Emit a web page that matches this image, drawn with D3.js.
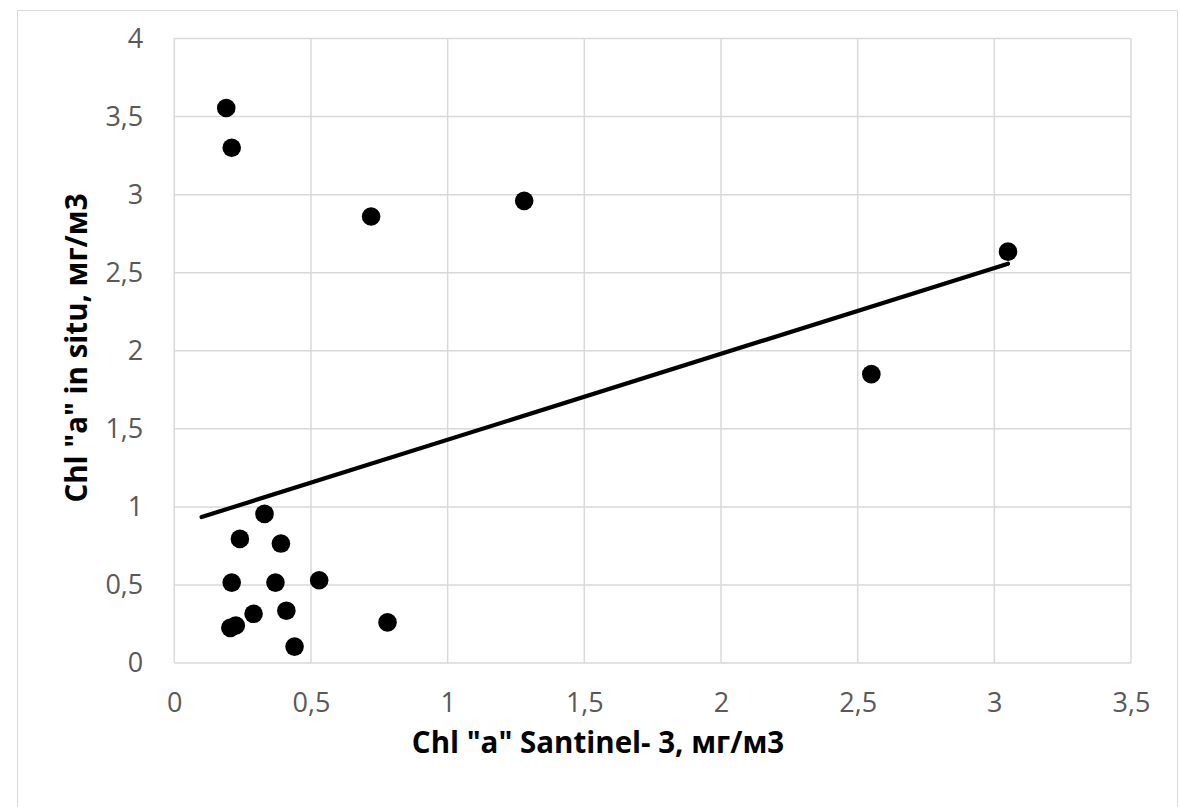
<!DOCTYPE html>
<html>
<head>
<meta charset="utf-8">
<script src="https://cdn.jsdelivr.net/npm/d3@7"></script>
<style>
  html, body { margin: 0; padding: 0; background: #fff; }
  svg { display: block; }
</style>
</head>
<body>
<svg id="chart" width="1180" height="807"></svg>
<script>
// ---- data ----
const xValues = [0.19, 0.21, 0.72, 1.28, 3.05, 2.55, 0.33, 0.24, 0.39, 0.21, 0.37, 0.53, 0.29, 0.41, 0.205, 0.225, 0.44, 0.78];
const yValues = [3.555, 3.30, 2.86, 2.96, 2.635, 1.85, 0.955, 0.795, 0.765, 0.515, 0.515, 0.53, 0.315, 0.335, 0.225, 0.24, 0.105, 0.26];
const trendX = [0.1, 3.05];
const trendY = [0.935, 2.558];
const xTicks = [0, 0.5, 1, 1.5, 2, 2.5, 3, 3.5];
const yTicks = [0, 0.5, 1, 1.5, 2, 2.5, 3, 3.5, 4];
const xTitle = 'Chl "a" Santinel- 3, мг/м3';
const yTitle = 'Chl "a" in situ, мг/м3';

const fmt = v => String(v).replace('.', ',');

const svg = d3.select('#chart');
const plotL = 174.3, plotR = 1131, plotT = 38.5, plotB = 663;

const x = d3.scaleLinear().domain([0, 3.5]).range([plotL, plotR]);
const y = d3.scaleLinear().domain([0, 4]).range([plotB, plotT]);

// outer chart border
svg.append('rect')
  .attr('x', 17.5).attr('y', 10.5).attr('width', 1160).attr('height', 810)
  .attr('fill', '#fff').attr('stroke', '#d9d9d9').attr('stroke-width', 1);

// gridlines
const grid = svg.append('g');
grid.selectAll('line.v').data(xTicks).join('line').attr('class', 'v')
  .attr('x1', d => x(d)).attr('x2', d => x(d))
  .attr('y1', plotT).attr('y2', plotB)
  .attr('stroke', '#d9d9d9').attr('stroke-width', 1.5);
grid.selectAll('line.h').data(yTicks).join('line').attr('class', 'h')
  .attr('y1', d => y(d)).attr('y2', d => y(d))
  .attr('x1', plotL).attr('x2', plotR)
  .attr('stroke', '#d9d9d9').attr('stroke-width', 1.5);

// axes (labels only)
const xAxis = d3.axisBottom(x).tickValues(xTicks).tickFormat(fmt).tickSize(0).tickPadding(30);
const gx = svg.append('g').attr('transform', `translate(0,${plotB})`).call(xAxis);
gx.select('.domain').remove();
gx.selectAll('text').attr('fill', '#595959')
  .style('font-family', '"Open Sans", sans-serif').style('font-size', '27px');

const yAxis = d3.axisLeft(y).tickValues(yTicks).tickFormat(fmt).tickSize(0).tickPadding(31);
const gy = svg.append('g').attr('transform', `translate(${plotL},0)`).call(yAxis);
gy.select('.domain').remove();
gy.selectAll('text').attr('fill', '#595959')
  .style('font-family', '"Open Sans", sans-serif').style('font-size', '27px');

// trend line
const trend = trendX.map((d, i) => [d, trendY[i]]);
svg.append('path')
  .datum(trend)
  .attr('d', d3.line().x(d => x(d[0])).y(d => y(d[1])))
  .attr('fill', 'none').attr('stroke', '#000').attr('stroke-width', 4.2)
  .attr('stroke-linecap', 'round');

// points
const pts = xValues.map((d, i) => [d, yValues[i]]);
svg.append('g').selectAll('circle').data(pts).join('circle')
  .attr('cx', d => x(d[0])).attr('cy', d => y(d[1])).attr('r', 9.3)
  .attr('fill', '#000');

// axis titles
svg.append('text')
  .attr('x', 598).attr('y', 753)
  .attr('text-anchor', 'middle')
  .style('font-family', '"Open Sans", sans-serif').style('font-size', '29.5px').style('font-weight', 'bold')
  .attr('fill', '#000')
  .text(xTitle);

svg.append('text')
  .attr('transform', 'translate(87,348) rotate(-90)')
  .attr('text-anchor', 'middle')
  .style('font-family', '"Open Sans", sans-serif').style('font-size', '29.5px').style('font-weight', 'bold')
  .attr('fill', '#000')
  .text(yTitle);
</script>
</body>
</html>
